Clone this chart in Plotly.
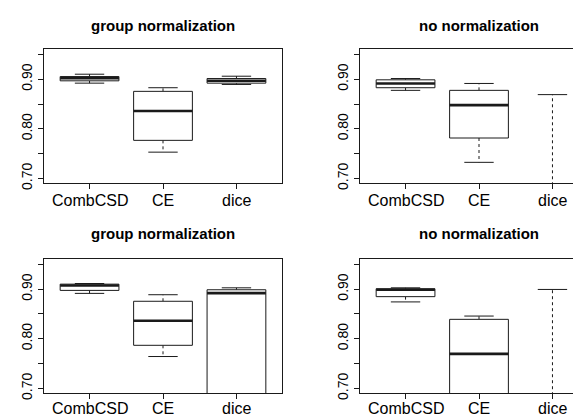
import plotly.graph_objects as go

# ---------------- data ----------------
categories = ["CombCSD", "CE", "dice"]
titles = ["group normalization", "no normalization", "group normalization", "no normalization"]

# per panel, per category: lower whisker, q1, median, q3, upper whisker
p1_low = [0.892, 0.753, 0.8894]
p1_q1 = [0.8967, 0.7768, 0.892]
p1_med = [0.902, 0.8358, 0.8967]
p1_q3 = [0.9053, 0.8755, 0.9013]
p1_high = [0.910, 0.8828, 0.906]

p2_low = [0.8775, 0.7325, 0.35]
p2_q1 = [0.8828, 0.7815, 0.45]
p2_med = [0.8914, 0.8477, 0.55]
p2_q3 = [0.8987, 0.8775, 0.65]
p2_high = [0.9013, 0.8914, 0.8689]

p3_low = [0.8914, 0.7642, 0.50]
p3_q1 = [0.8974, 0.7868, 0.60]
p3_med = [0.9073, 0.8364, 0.892]
p3_q3 = [0.910, 0.8755, 0.8987]
p3_high = [0.9113, 0.8887, 0.9026]

p4_low = [0.8742, 0.55, 0.35]
p4_q1 = [0.8848, 0.65, 0.45]
p4_med = [0.8987, 0.7695, 0.55]
p4_q3 = [0.9007, 0.8391, 0.65]
p4_high = [0.9026, 0.8457, 0.8993]

y_tickvals = [0.70, 0.75, 0.80, 0.85, 0.90, 0.95]
y_ticktext = ["0.70", "", "0.80", "", "0.90", ""]

panels = [
    (p1_low, p1_q1, p1_med, p1_q3, p1_high),
    (p2_low, p2_q1, p2_med, p2_q3, p2_high),
    (p3_low, p3_q1, p3_med, p3_q3, p3_high),
    (p4_low, p4_q1, p4_med, p4_q3, p4_high),
]

W, H = 581, 416
FONT = "Liberation Sans, Arial, Helvetica, sans-serif"
LC = "#1a1a1a"
BOXW = 0.8
CAPW = 0.4

fig = go.Figure()

for pi, (lo, q1, med, q3, hi) in enumerate(panels):
    ax = "" if pi == 0 else str(pi + 1)
    xa, ya = "x" + ax, "y" + ax
    for ci, cat in enumerate(categories):
        c = ci + 1
        # whiskers (dashed)
        fig.add_trace(go.Scatter(x=[c, c, None, c, c], y=[q3[ci], hi[ci], None, q1[ci], lo[ci]],
                                 mode="lines", line=dict(color=LC, width=1, dash="3px,3px"),
                                 xaxis=xa, yaxis=ya, hoverinfo="skip", showlegend=False))
        # box
        fig.add_trace(go.Scatter(x=[c - BOXW / 2, c + BOXW / 2, c + BOXW / 2, c - BOXW / 2, c - BOXW / 2],
                                 y=[q1[ci], q1[ci], q3[ci], q3[ci], q1[ci]],
                                 mode="lines", fill="toself", fillcolor="white",
                                 line=dict(color=LC, width=1),
                                 xaxis=xa, yaxis=ya, hoverinfo="skip", showlegend=False))
        # median
        fig.add_trace(go.Scatter(x=[c - BOXW / 2, c + BOXW / 2], y=[med[ci], med[ci]],
                                 mode="lines", line=dict(color=LC, width=2.6),
                                 xaxis=xa, yaxis=ya, hoverinfo="skip", showlegend=False))
        # caps
        fig.add_trace(go.Scatter(x=[c - CAPW / 2, c + CAPW / 2, None, c - CAPW / 2, c + CAPW / 2],
                                 y=[hi[ci], hi[ci], None, lo[ci], lo[ci]],
                                 mode="lines", line=dict(color=LC, width=1),
                                 xaxis=xa, yaxis=ya, hoverinfo="skip", showlegend=False))

# layout geometry (pixels)
left_x = (36, 274)
right_x0 = 352
unit_px = (left_x[1] - left_x[0]) / 3.24
right_range_hi = 0.38 + (W - right_x0) / unit_px
rows = [(42, 178), (255, 391)]
label_cy = [195, 406]

layout = dict(width=W, height=H, margin=dict(l=0, r=0, t=0, b=0),
              paper_bgcolor="white", plot_bgcolor="white", showlegend=False,
              font=dict(family=FONT, color="black", size=15))

annotations = []
for pi in range(4):
    ax = "" if pi == 0 else str(pi + 1)
    r = pi // 2
    col = pi % 2
    top, bot = rows[r]
    ydom = [1 - bot / H, 1 - top / H]
    if col == 0:
        xdom = [left_x[0] / W, left_x[1] / W]
        xr = [0.38, 3.62]
        mirror_y = True
    else:
        xdom = [right_x0 / W, 1.0]
        xr = [0.38, right_range_hi]
        mirror_y = False
    layout["xaxis" + ax] = dict(domain=xdom, range=xr, anchor="y" + ax,
                                tickvals=[1, 2, 3], showticklabels=False,
                                ticks="outside", ticklen=5, tickwidth=1, tickcolor=LC,
                                showline=True, linecolor=LC, linewidth=1, mirror=True,
                                showgrid=False, zeroline=False, fixedrange=True)
    layout["yaxis" + ax] = dict(domain=ydom, range=[0.69, 0.96], anchor="x" + ax,
                                tickvals=y_tickvals, ticktext=y_ticktext,
                                ticks="outside", ticklen=5, tickwidth=1, tickcolor=LC,
                                tickangle=-90,
                                showline=True, linecolor=LC, linewidth=1, mirror=mirror_y,
                                showgrid=False, zeroline=False, fixedrange=True,
                                tickfont=dict(size=14, family=FONT, color="black"))
    # category labels under the x axis
    for ci, cat in enumerate(categories):
        annotations.append(dict(text=cat, x=ci + 1, xref="x" + ax,
                                y=1 - label_cy[r] / H, yref="paper",
                                xanchor="center", yanchor="middle", showarrow=False,
                                font=dict(size=16, family=FONT, color="black")))
    cx = (left_x[0] + left_x[1]) / 2 if col == 0 else right_x0 + 238 / 2
    cy = 18 if r == 0 else 229
    annotations.append(dict(text="<b>" + titles[pi] + "</b>", x=cx / W, y=1 - cy / H,
                            xref="paper", yref="paper", xanchor="center", yanchor="middle",
                            showarrow=False, font=dict(size=15, family=FONT, color="black")))

layout["annotations"] = annotations
fig.update_layout(**layout)
fig.write_html("out.html")
